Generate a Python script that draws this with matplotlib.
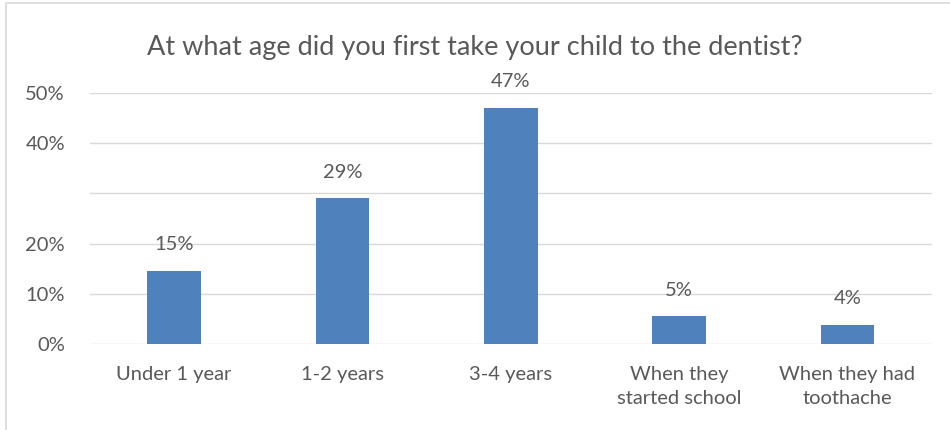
import matplotlib.pyplot as plt
from matplotlib.patches import Rectangle

categories = ["Under 1 year", "1-2 years", "3-4 years", "When they\nstarted school", "When they had\ntoothache"]
values = [14.5, 29, 47, 5.5, 3.8]
labels = ["15%", "29%", "47%", "5%", "4%"]
yticks = [0, 10, 20, 30, 40, 50]
ytick_labels = ["0%", "10%", "20%", "", "40%", "50%"]

plt.rcParams["font.family"] = ["Lato", "DejaVu Sans"]
text_color = "#595959"

fig = plt.figure(figsize=(9.5, 4.3), dpi=100)
ax = fig.add_axes([0.0947, 0.2, 0.886, 0.5837])

x = list(range(len(categories)))
ax.bar(x, values, width=0.32, color="#4F81BD", zorder=3)
for xi, v, lab in zip(x, values, labels):
    ax.annotate(lab, (xi, v), xytext=(0, 15), textcoords="offset points",
                ha="center", va="baseline", fontsize=14.5, color=text_color)

ax.set_xlim(-0.5, len(categories) - 0.5)
ax.set_ylim(0, 50)
ax.set_yticks(yticks)
ax.set_yticklabels(ytick_labels)
ax.set_xticks(x)
ax.set_xticklabels(categories, linespacing=1.45)
ax.yaxis.grid(True, color="#D9D9D9", linewidth=1, zorder=0)
for s in ax.spines.values():
    s.set_visible(False)
ax.tick_params(axis="both", length=0, labelsize=14.5, labelcolor=text_color)
ax.tick_params(axis="y", pad=18)
ax.tick_params(axis="x", pad=16)

fig.text(0.5, 0.89, "At what age did you first take your child to the dentist?",
         ha="center", va="center", fontsize=19.5, color=text_color)

fig.patches.append(Rectangle((6 / 950, -0.1), 1.2, 1.1 - 3 / 430, transform=fig.transFigure,
                             fill=False, edgecolor="#D9D9D9", linewidth=1.2))

fig.savefig("out.png", dpi=100)
